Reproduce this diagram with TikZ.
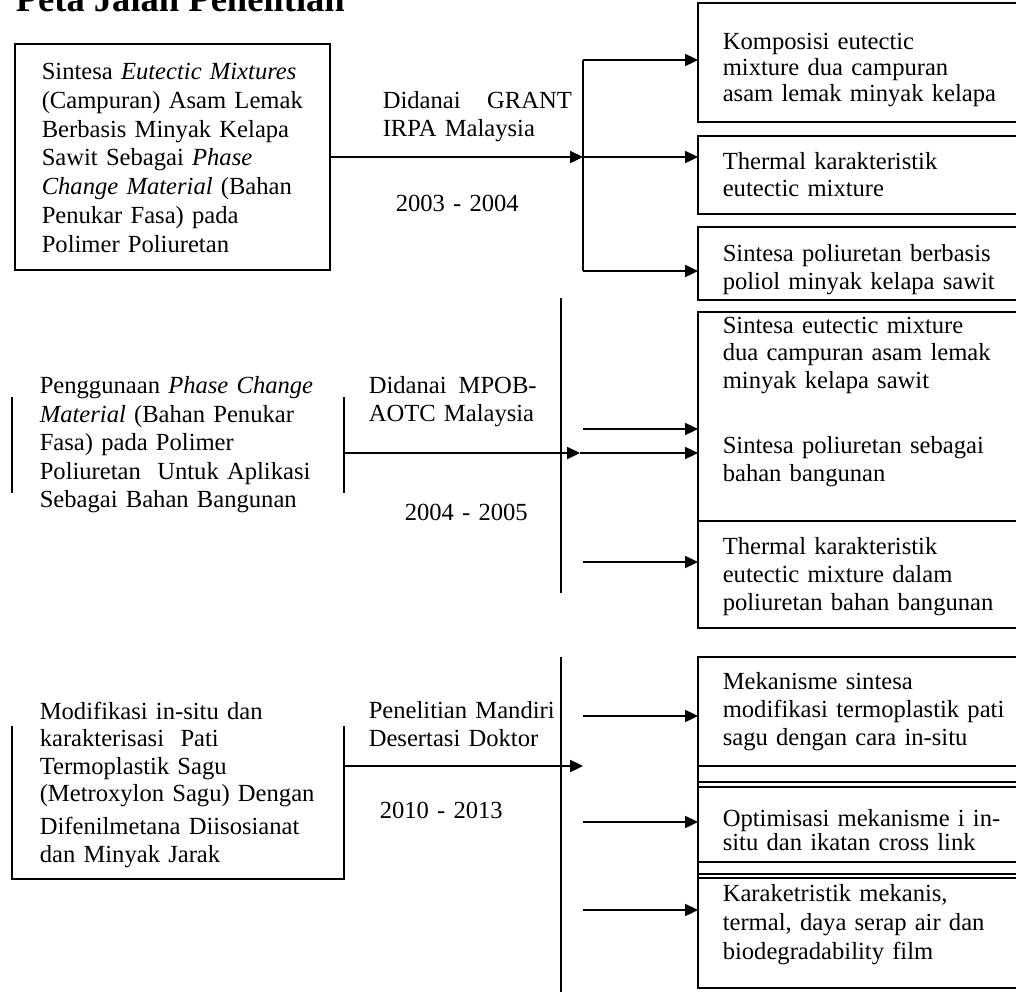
\documentclass[tikz,border=0pt]{standalone}
\usepackage{fontspec}
\setmainfont{Liberation Serif}
\usetikzlibrary{arrows.meta}

\begin{document}
\begin{tikzpicture}[x=0.025cm,y=-0.025cm,line width=1.1pt,
  font=\fontsize{17.5}{19.8}\selectfont,
  box/.style={draw,rectangle,anchor=north west,inner sep=0pt,outer sep=0pt,minimum width=8.3cm},
  txt/.style={anchor=north west,inner sep=0pt,align=left,text width=7.5cm},
  arr/.style={-{Triangle[length=0.32cm,width=0.3cm]}}]
\useasboundingbox (0,0) rectangle (1016,991);

\node[anchor=base west,inner sep=0pt,font=\bfseries\fontsize{26}{30}\selectfont] (judul) at (15,12) {Peta Jalan Penelitian};

% baris 1
\node[box,minimum width=7.875cm,minimum height=5.65cm] (sumber1) at (15,44) {};
\node[txt,font=\fontsize{17.5}{20.6}\selectfont] (sumber1t) at (41,62) {Sintesa \textit{Eutectic Mixtures}\\(Campuran) Asam Lemak\\Berbasis Minyak Kelapa\\Sawit Sebagai \textit{Phase}\\\textit{Change Material} (Bahan\\Penukar Fasa) pada\\Polimer Poliuretan};
\node[txt,text width=4.725cm] (dana1) at (382,91) {Didanai\hfill GRANT\\IRPA Malaysia};
\node[txt] (tahun1) at (395,194) {2003 - 2004};

\node[box,minimum height=2.975cm] (hasil1a) at (698,3) {};
\node[box,minimum height=1.95cm] (hasil1b) at (698,136) {};
\node[box,minimum height=1.825cm] (hasil1c) at (698,227) {};
\node[txt,font=\fontsize{17.5}{18.8}\selectfont] (hasil1at) at (722,32) {Komposisi eutectic\\mixture dua campuran\\asam lemak minyak kelapa};
\node[txt,font=\fontsize{17.5}{18.8}\selectfont] (hasil1bt) at (722,152) {Thermal karakteristik\\eutectic mixture};
\node[txt] (hasil1ct) at (722,244) {Sintesa poliuretan berbasis\\poliol minyak kelapa sawit};

\coordinate (bar1t) at (583,60);
\coordinate (bar1b) at (583,271);
\draw (bar1t) -- (bar1b);
\draw[arr] (sumber1.east) -- (sumber1.east -| bar1t);
\draw[arr] (bar1t) -- (bar1t -| hasil1a.west);
\draw[arr] (sumber1.east -| bar1t) -- (sumber1.east -| hasil1b.west);
\draw[arr] (bar1b) -- (bar1b -| hasil1c.west);

% baris 2
\node[box,draw=none,minimum height=2.4cm] (sumber2) at (12,397) {};
\draw (sumber2.north west) -- (sumber2.south west) (sumber2.north east) -- (sumber2.south east);
\node[txt,font=\fontsize{17.5}{20.2}\selectfont] (sumber2t) at (39,376) {Penggunaan \textit{Phase Change}\\\textit{Material} (Bahan Penukar\\Fasa) pada Polimer\\Poliuretan\ \ Untuk Aplikasi\\Sebagai Bahan Bangunan};
\node[txt] (dana2) at (368,376) {Didanai\hspace{0.3cm}MPOB-\\AOTC Malaysia};
\node[txt] (tahun2) at (404,503) {2004 - 2005};

\node[box,minimum height=5.225cm] (hasil2a) at (698,312) {};
\node[box,minimum height=2.675cm] (hasil2b) at (698,521) {};
\node[txt] (hasil2at) at (722,316) {Sintesa eutectic mixture\\dua campuran asam lemak\\minyak kelapa sawit};
\node[txt] (hasil2at2) at (722,436) {Sintesa poliuretan sebagai\\bahan bangunan};
\node[txt] (hasil2bt) at (722,537) {Thermal karakteristik\\eutectic mixture dalam\\poliuretan bahan bangunan};

\coordinate (bar2t) at (561,298);
\coordinate (bar2b) at (561,593);
\draw (bar2t) -- (bar2b);
\coordinate (tip2) at (580,453);
\coordinate (cab2a) at (583,429);
\coordinate (cab2c) at (583,562);
\draw[arr] (sumber2.east |- tip2) -- (tip2);
\draw[arr] (cab2a) -- (cab2a -| hasil2a.west);
\draw[arr] (tip2) -- (tip2 -| hasil2a.west);
\draw[arr] (cab2c) -- (cab2c -| hasil2b.west);

% baris 3
\node[box,draw=none,minimum height=3.825cm] (sumber3) at (12,726) {};
\draw (sumber3.north west) -- (sumber3.south west) -- (sumber3.south east) -- (sumber3.north east);
\node[txt,font=\fontsize{17.5}{19.6}\selectfont] (sumber3t) at (39,701) {Modifikasi in-situ dan\\karakterisasi\ \ Pati\\Termoplastik Sagu\\(Metroxylon Sagu) Dengan\\[4pt]Difenilmetana Diisosianat\\dan Minyak Jarak};
\node[txt] (dana3) at (368,701) {Penelitian Mandiri\\Desertasi Doktor};
\node[txt] (tahun3) at (379,801) {2010 - 2013};

\node[box,minimum height=2.725cm] (hasil3a) at (698,657) {};
\node[box,minimum height=1.875cm] (hasil3b) at (698,787) {};
\node[box,minimum height=2.75cm] (hasil3c) at (698,878) {};
\draw ([yshift=0.125cm]hasil3b.north west) -- ([yshift=0.125cm]hasil3b.north east);
\draw ([yshift=0.1cm]hasil3c.north west) -- ([yshift=0.1cm]hasil3c.north east);
\draw (hasil3a.north west) -- (hasil3c.south west);
\node[txt] (hasil3at) at (722,672) {Mekanisme sintesa\\modifikasi termoplastik pati\\sagu dengan cara in-situ};
\node[txt,font=\fontsize{17.5}{15.5}\selectfont] (hasil3bt) at (722,809) {Optimisasi mekanisme i in-\\situ dan ikatan cross link};
\node[txt,font=\fontsize{17.5}{20.5}\selectfont] (hasil3ct) at (722,884) {Karaketristik mekanis,\\termal, daya serap air dan\\biodegradability film};

\coordinate (bar3t) at (561,657);
\coordinate (bar3b) at (561,1000);
\draw (bar3t) -- (bar3b);
\coordinate (tip3) at (583,766);
\coordinate (cab3a) at (583,716);
\coordinate (cab3b) at (583,822);
\coordinate (cab3c) at (583,910);
\draw[arr] (sumber3.east |- tip3) -- (tip3);
\draw[arr] (cab3a) -- (cab3a -| hasil3a.west);
\draw[arr] (cab3b) -- (cab3b -| hasil3b.west);
\draw[arr] (cab3c) -- (cab3c -| hasil3c.west);

\end{tikzpicture}
\end{document}
